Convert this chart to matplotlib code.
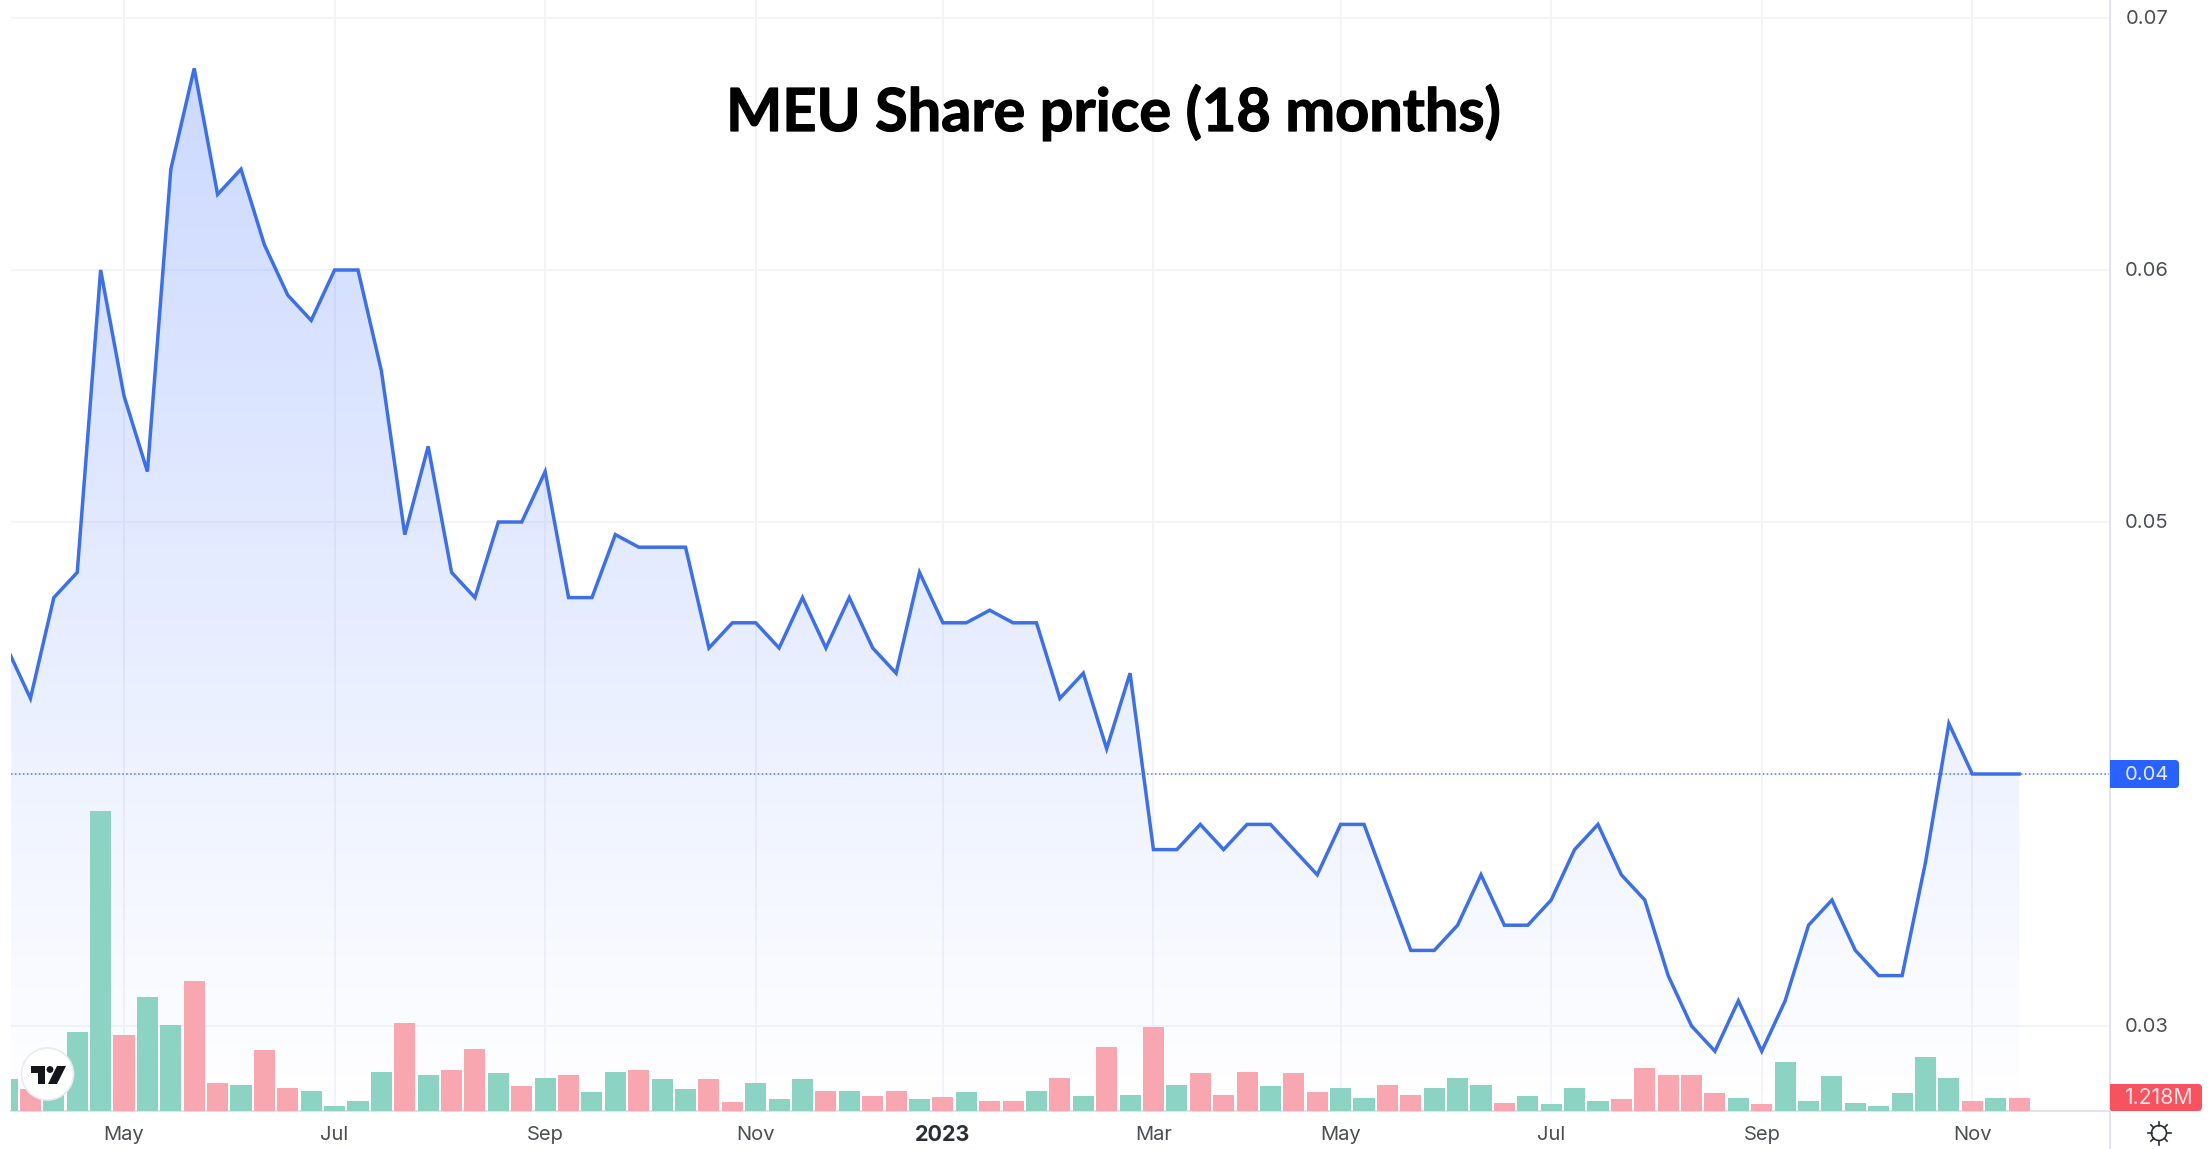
import numpy as np
import matplotlib
matplotlib.use("Agg")
import matplotlib.pyplot as plt
import matplotlib.patheffects as pe
from matplotlib.patches import Rectangle, Circle, Polygon, FancyBboxPatch
from matplotlib.lines import Line2D
from matplotlib.colors import LinearSegmentedColormap

title = "MEU Share price (18 months)"
price = [.045, .043, .047, .048, .060, .055, .052, .064, .068, .063, .064, .061, .059, .058, .060, .060, .056,
         .0495, .053, .048, .047, .050, .050, .052, .047, .047, .0495, .049, .049, .049, .045, .046, .046, .045,
         .047, .045, .047, .045, .044, .048, .046, .046, .0465, .046, .046, .043, .044, .041, .044, .037, .037,
         .038, .037, .038, .038, .037, .036, .038, .038, .0355, .033, .033, .034, .036, .034, .034, .035, .037,
         .038, .036, .035, .032, .030, .029, .031, .029, .031, .034, .035, .033, .032, .032, .0365, .042, .040,
         .040, .040]
volume_m = [2.9, 2.0, 1.5, 7.2, 27.5, 7.0, 10.4, 7.9, 11.9, 2.6, 2.4, 5.6, 2.1, 1.8, 0.46, 0.95, 3.6, 8.1, 3.3,
            3.8, 5.7, 3.5, 2.3, 3.0, 3.3, 1.7, 3.6, 3.8, 2.9, 2.0, 2.9, 0.8, 2.6, 1.1, 2.9, 1.8, 1.8, 1.4, 1.8,
            1.1, 1.25, 1.7, 0.9, 0.9, 1.8, 3.0, 1.4, 5.9, 1.5, 7.7, 2.4, 3.5, 1.5, 3.6, 2.3, 3.5, 1.7, 2.1, 1.2,
            2.4, 1.5, 2.1, 3.0, 2.4, 0.76, 1.4, 0.6, 2.1, 0.9, 1.07, 3.9, 3.3, 3.3, 1.65, 1.218, 0.6, 4.5, 0.9,
            3.2, 0.73, 0.46, 1.65, 4.9, 3.0, 0.9, 1.218, 1.218]
up = [1, 0, 1, 1, 1, 0, 1, 1, 0, 0, 1, 0, 0, 1, 1, 1, 1, 0, 1, 0, 0, 1, 0, 1, 0, 1, 1, 0, 1, 1, 0, 0, 1, 1, 1, 0,
      1, 0, 0, 1, 0, 1, 0, 0, 1, 0, 1, 0, 1, 0, 1, 0, 0, 0, 1, 0, 0, 1, 1, 0, 0, 1, 1, 1, 0, 1, 1, 1, 1, 0, 0, 0,
      0, 0, 1, 0, 1, 1, 1, 1, 1, 1, 1, 1, 0, 1, 0]
tick_idx = [5, 14, 23, 32, 40, 49, 57, 66, 75, 84]
tick_lab = ["May", "Jul", "Sep", "Nov", "2023", "Mar", "May", "Jul", "Sep", "Nov"]
price_ticks = [0.03, 0.04, 0.05, 0.06, 0.07]
last_price = 0.04
last_volume = "1.218M"

W, H = 2210, 1149
L, R, T, B = 11, 2110, 0, 1111
fig = plt.figure(figsize=(W / 100, H / 100), dpi=100, facecolor="white")
ax = fig.add_axes([L / W, 1 - B / H, (R - L) / W, (B - T) / H])

STEP = 16.6 * 1.4094
X0 = 5 * 1.4094
ax.set_xlim((L - X0) / STEP, (R - X0) / STEP)
PX = 25200.0
ax.set_ylim(0.04 - (B - 774) / PX, 0.04 + (774 - T) / PX)
x = np.arange(len(price))
price_a = np.array(price)

GRID = "#f1f3f8"
ax.set_yticks(price_ticks)
ax.set_xticks(tick_idx)
ax.grid(True, color=GRID, lw=1.3)
ax.set_axisbelow(True)
ax.tick_params(length=0, labelleft=False, labelbottom=False)
for s in ["top", "left"]:
    ax.spines[s].set_visible(False)
ax.spines["right"].set_color("#dfe2ea")
ax.spines["bottom"].set_color("#dfe2ea")
ax.spines["right"].set_linewidth(1.3)
ax.spines["bottom"].set_linewidth(1.3)

# gradient area under the line
cmap = LinearSegmentedColormap.from_list("g", [(0.16, 0.38, 1.0, 0.0), (0.16, 0.38, 1.0, 0.24)])
ylo, yhi = ax.get_ylim()
grad = np.linspace(1, 0, 256).reshape(-1, 1)
top = max(price)
im = ax.imshow(grad, extent=(x[0], x[-1], ylo, top), cmap=cmap, vmin=0, vmax=1, aspect="auto", zorder=1)
verts = [(x[0], ylo)] + list(zip(x, price_a)) + [(x[-1], ylo), (x[0], ylo)]
poly = Polygon(verts, closed=True, transform=ax.transData, facecolor="none", edgecolor="none")
ax.add_patch(poly)
im.set_clip_path(poly)
ax.set_xlim((L - X0) / STEP, (R - X0) / STEP)
ax.set_ylim(ylo, yhi)

ax.axhline(last_price, color="#5b7fe0", lw=1.1, ls=(0, (1, 1.6)), zorder=2)

# volume
vax = ax.twinx()
vax.set_ylim(0, (B - T) / 10.92)
vax.axis("off")
colors = ["#8dd3c4" if u else "#f8a6b0" for u in up]
vax.bar(x, volume_m, width=0.9, color=colors, linewidth=0, zorder=2)

# price line above volume
lax = ax.twinx()
lax.set_ylim(ylo, yhi)
lax.axis("off")
lax.plot(x, price_a, color="#3d6fe6", lw=2.5, solid_joinstyle="miter", zorder=3)

# overlay in pixel coordinates
ov = fig.add_axes([0, 0, 1, 1], facecolor="none")
ov.set_xlim(0, W)
ov.set_ylim(H, 0)
ov.axis("off")

FONT = ["Inter", "DejaVu Sans"]
FS = 14.5
TXT = "#4b4e57"
to_px_y = lambda p: 775 - (p - 0.04) * PX
for p in price_ticks:
    if p == last_price:
        continue
    ov.text(2147, to_px_y(p), f"{p:.2f}", ha="center", va="center", fontsize=FS, color=TXT, family=FONT)
for i, lab in zip(tick_idx, tick_lab):
    px = X0 + i * STEP
    bold = lab.isdigit()
    ov.text(px, 1135, lab, ha="center", va="center", fontsize=FS + (1 if bold else 0), family=FONT,
            color="#2a2e39" if bold else TXT, fontweight="bold" if bold else "normal")


def badge(x0, x1, y0, y1, color):
    ov.add_patch(FancyBboxPatch((x0 + 4, y0 + 4), x1 - x0 - 8, y1 - y0 - 8, boxstyle="round,pad=4,rounding_size=4",
                                facecolor=color, edgecolor="none"))
    ov.add_patch(Rectangle((x0, y0), 10, y1 - y0, facecolor=color, edgecolor="none"))


badge(2110, 2179, 760, 788, "#2962ff")
ov.text(2147, 775, f"{last_price:.2f}", ha="center", va="center", fontsize=FS, color="#e4ebff", family=FONT)
badge(2110, 2202, 1084, 1111, "#f7525f")
ov.text(2158, 1098, last_volume, ha="center", va="center", fontsize=FS + 0.8, color="#ffe0e3", family=FONT)

ov.text(1114, 131, title, ha="center", va="baseline", fontsize=42.8, fontweight="bold", color="black",
        family=["Lato", "DejaVu Sans"], path_effects=[pe.withStroke(linewidth=0.9, foreground="black")])

# logo
ov.add_patch(Circle((47.5, 1074), 26, facecolor="white", edgecolor="#e9ebf0", lw=1.2, zorder=5))
ov.add_patch(Polygon([(31, 1066), (45, 1066), (45, 1084), (38, 1084), (38, 1072.5), (31, 1072.5)], closed=True,
                     facecolor="#14161c", edgecolor="none", zorder=6))
ov.add_patch(Circle((50, 1069.5), 3.4, facecolor="#14161c", edgecolor="none", zorder=6))
ov.add_patch(Polygon([(57, 1066), (66, 1066), (57, 1084), (48, 1084)], closed=True,
                     facecolor="#14161c", edgecolor="none", zorder=6))

# settings icon
cx, cy = 2159, 1133
ov.add_patch(Circle((cx, cy), 7.5, facecolor="none", edgecolor="#2a2e39", lw=1.2))
for a in np.deg2rad(np.arange(0, 360, 45)):
    ov.add_line(Line2D([cx + 7.5 * np.cos(a), cx + 11.5 * np.cos(a)], [cy + 7.5 * np.sin(a), cy + 11.5 * np.sin(a)],
                       color="#2a2e39", lw=1.2))
# axis line below the pane
ov.add_line(Line2D([R, R], [B, H], color="#dfe2ea", lw=1.3))

fig.savefig("out.png", dpi=100, facecolor="white")
